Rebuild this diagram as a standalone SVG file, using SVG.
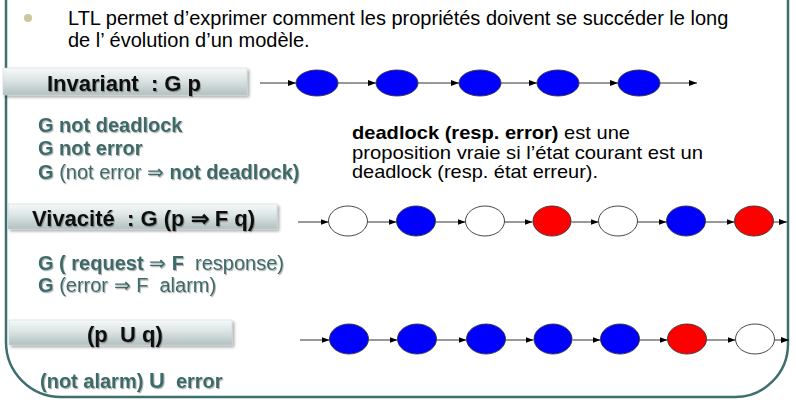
<svg xmlns="http://www.w3.org/2000/svg" width="796" height="404" viewBox="0 0 796 404">
<defs>
<linearGradient id="boxg" x1="0" y1="0" x2="0" y2="1">
<stop offset="0" stop-color="#f6f9f9"/>
<stop offset="0.45" stop-color="#dce4e4"/>
<stop offset="1" stop-color="#b2c1c1"/>
</linearGradient>
<filter id="bsh" x="-5%" y="-30%" width="115%" height="170%">
<feDropShadow dx="2" dy="2" stdDeviation="1.5" flood-color="#000" flood-opacity="0.35"/>
</filter>
<filter id="tsh" x="-5%" y="-30%" width="115%" height="170%">
<feDropShadow dx="1" dy="1.2" stdDeviation="0.7" flood-color="#000" flood-opacity="0.3"/>
</filter>
<marker id="arr" markerWidth="8" markerHeight="6" refX="8" refY="3" orient="auto" markerUnits="userSpaceOnUse">
<path d="M0,0 L8,3 L0,6 z" fill="#000"/>
</marker>
</defs>
<style>
.frame{fill:none;stroke:#3e6e6e;stroke-width:2.5}
.box{fill:url(#boxg);stroke:#c8d2d2;stroke-width:0.5;filter:url(#bsh)}
.lbl{font-family:"Liberation Sans",Arial,sans-serif;font-size:22px;font-weight:bold;fill:#111;filter:url(#tsh)}
.txt{font-family:"Liberation Sans",Arial,sans-serif;font-size:20px;fill:#000}
.grn{font-family:"Liberation Sans",Arial,sans-serif;font-size:20px;font-weight:bold;fill:#3e6b69;filter:url(#tsh)}
.reg{font-weight:normal}
.mid{font-family:"Liberation Sans",Arial,sans-serif;font-size:18.5px;fill:#000}
.b{font-weight:bold}
.st{stroke:#333;stroke-width:0.9}
.blue{fill:#0000ff}
.red{fill:#ff0000}
.wht{fill:#ffffff}
.con line{stroke:#333;stroke-width:1;marker-end:url(#arr)}
</style>
<rect x="0" y="0" width="796" height="404" fill="#ffffff"/>
<path class="frame" d="M6,0 L6,342 A55,55 0 0 0 61,397 L735,397 A53,53 0 0 0 788,344 L788,0"/>

<g id="intro">
<circle cx="28" cy="18" r="4" fill="#c9c99d"/>
<text class="txt" x="68" y="24.5">LTL permet d’exprimer comment les propriétés doivent se succéder le long</text>
<text class="txt" x="68" y="46.5">de l’ évolution d’un modèle.</text>
</g>

<g id="box-invariant">
<rect class="box" x="3" y="68" width="244" height="27"/>
<text class="lbl" x="47" y="90.5" xml:space="preserve">Invariant  : G p</text>
</g>

<g id="box-vivacite">
<rect class="box" x="8" y="204" width="269" height="25"/>
<text class="lbl" x="32" y="226" xml:space="preserve">Vivacité  : G (p ⇒ F q)</text>
</g>

<g id="box-until">
<rect class="box" x="9" y="320" width="223" height="25"/>
<text class="lbl" x="87" y="342" xml:space="preserve">(p  U q)</text>
</g>

<g id="invariant-examples">
<text class="grn" x="38" y="132">G not deadlock</text>
<text class="grn" x="38" y="155">G not error</text>
<text class="grn" x="38" y="179" xml:space="preserve">G <tspan class="reg">(not error ⇒</tspan> not deadlock)</text>
</g>

<g id="note">
<text class="mid" x="352" y="139" textLength="278" lengthAdjust="spacingAndGlyphs"><tspan class="b">deadlock (resp. error)</tspan> est une</text>
<text class="mid" x="352" y="158.5" textLength="351" lengthAdjust="spacingAndGlyphs">proposition vraie si l’état courant est un</text>
<text class="mid" x="352" y="178" textLength="246" lengthAdjust="spacingAndGlyphs">deadlock (resp. état erreur).</text>
</g>

<g id="vivacite-examples">
<text class="grn" x="38" y="270" xml:space="preserve">G ( request <tspan class="reg">⇒</tspan> F  <tspan class="reg">response)</tspan></text>
<text class="grn" x="38" y="292" xml:space="preserve">G <tspan class="reg">(error ⇒ F  alarm)</tspan></text>
</g>

<g id="until-example">
<text class="grn" x="40" y="388" xml:space="preserve">(not alarm) <tspan font-size="22">U</tspan>  error</text>
</g>

<g id="connectors" class="con">
<line x1="260" y1="83" x2="296" y2="83"/>
<line x1="338" y1="83" x2="376" y2="83"/>
<line x1="418" y1="83" x2="459" y2="83"/>
<line x1="501" y1="83" x2="537" y2="83"/>
<line x1="579" y1="83" x2="618" y2="83"/>
<line x1="660" y1="83" x2="697" y2="83"/>

<line x1="298" y1="222" x2="328.5" y2="222"/>
<line x1="367.5" y1="222" x2="396.5" y2="222"/>
<line x1="435.5" y1="222" x2="465.5" y2="222"/>
<line x1="504.5" y1="222" x2="532.5" y2="222"/>
<line x1="571.5" y1="222" x2="598.5" y2="222"/>
<line x1="637.5" y1="222" x2="666.5" y2="222"/>
<line x1="705.5" y1="222" x2="734.5" y2="222"/>
<line x1="773.5" y1="222" x2="787" y2="222"/>

<line x1="300" y1="340" x2="329.5" y2="340"/>
<line x1="368.5" y1="340" x2="397.5" y2="340"/>
<line x1="436.5" y1="340" x2="466.5" y2="340"/>
<line x1="505.5" y1="340" x2="533.5" y2="340"/>
<line x1="572.5" y1="340" x2="600.5" y2="340"/>
<line x1="639.5" y1="340" x2="667.5" y2="340"/>
<line x1="706.5" y1="340" x2="735.5" y2="340"/>
<line x1="774.5" y1="340" x2="789" y2="340"/>
</g>

<g id="row1-s1"><ellipse class="blue st" cx="317" cy="83" rx="21" ry="13"/></g>
<g id="row1-s2"><ellipse class="blue st" cx="397" cy="83" rx="21" ry="13"/></g>
<g id="row1-s3"><ellipse class="blue st" cx="480" cy="83" rx="21" ry="13"/></g>
<g id="row1-s4"><ellipse class="blue st" cx="558" cy="83" rx="21" ry="13"/></g>
<g id="row1-s5"><ellipse class="blue st" cx="639" cy="83" rx="21" ry="13"/></g>

<g id="row2-s1"><ellipse class="wht st" cx="348" cy="221" rx="19.5" ry="15"/></g>
<g id="row2-s2"><ellipse class="blue st" cx="416" cy="221" rx="19.5" ry="15"/></g>
<g id="row2-s3"><ellipse class="wht st" cx="485" cy="221" rx="19.5" ry="15"/></g>
<g id="row2-s4"><ellipse class="red st" cx="552" cy="221" rx="19" ry="15"/></g>
<g id="row2-s5"><ellipse class="wht st" cx="618" cy="221" rx="19.5" ry="15"/></g>
<g id="row2-s6"><ellipse class="blue st" cx="686" cy="221" rx="19.5" ry="15"/></g>
<g id="row2-s7"><ellipse class="red st" cx="754" cy="221" rx="19.5" ry="15"/></g>

<g id="row3-s1"><ellipse class="blue st" cx="349" cy="339" rx="19.5" ry="15"/></g>
<g id="row3-s2"><ellipse class="blue st" cx="417" cy="339" rx="19.5" ry="15"/></g>
<g id="row3-s3"><ellipse class="blue st" cx="486" cy="339" rx="19.5" ry="15"/></g>
<g id="row3-s4"><ellipse class="blue st" cx="553" cy="339" rx="19" ry="15"/></g>
<g id="row3-s5"><ellipse class="blue st" cx="620" cy="339" rx="19.5" ry="15"/></g>
<g id="row3-s6"><ellipse class="red st" cx="687" cy="339" rx="19.5" ry="15"/></g>
<g id="row3-s7"><ellipse class="wht st" cx="755" cy="339" rx="19.5" ry="15"/></g>
</svg>
